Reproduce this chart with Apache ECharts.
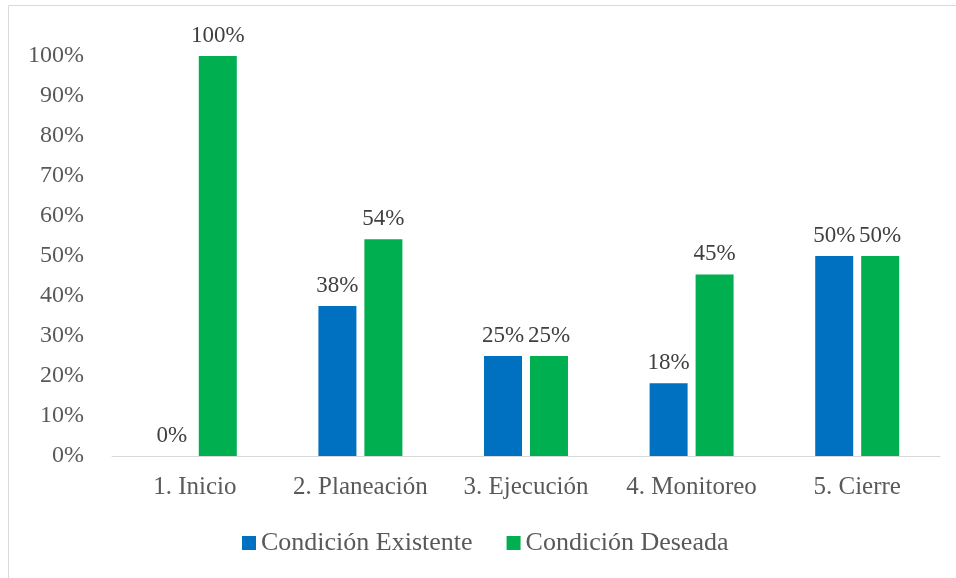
<!DOCTYPE html>
<html><head><meta charset="utf-8">
<script src="https://cdn.jsdelivr.net/npm/echarts@6/dist/echarts.min.js"></script>
<style>html,body{margin:0;padding:0;background:#fff}#c{width:956px;height:578px}</style>
</head><body><div id="c"></div>
<script>
var categories = ['1. Inicio', '2. Planeación', '3. Ejecución', '4. Monitoreo', '5. Cierre'];
var existente = [0, 37.5, 25, 18.2, 50];
var deseada = [100, 54.2, 25, 45.4, 50];
var seriesNames = ['Condición Existente', 'Condición Deseada'];
var yTicks = [0, 10, 20, 30, 40, 50, 60, 70, 80, 90, 100];

var font = '"Liberation Serif", "Times New Roman", serif';
var chart = echarts.init(document.getElementById('c'));
function lbl() {
  return {show: true, position: 'top', distance: 9, fontFamily: font, fontSize: 23, color: '#404040',
    formatter: function (p) { return Math.round(p.value) + '%'; }};
}
chart.setOption({
  animation: false,
  graphic: [{type: 'rect', shape: {x: 8.5, y: 5.5, width: 960, height: 600},
    style: {fill: 'none', stroke: '#d9d9d9', lineWidth: 1}, silent: true}],
  grid: {left: 112, right: 16, top: 56, bottom: 122},
  legend: {bottom: 17, left: 237, itemWidth: 14, itemHeight: 14, itemGap: 34,
    icon: 'rect', textStyle: {fontFamily: font, fontSize: 26, color: '#595959'},
    data: seriesNames},
  xAxis: {type: 'category', data: categories,
    axisLine: {lineStyle: {color: '#d9d9d9', width: 1}}, axisTick: {show: false},
    axisLabel: {interval: 0, fontFamily: font, fontSize: 25, color: '#595959', margin: 19}},
  yAxis: {type: 'value', min: 0, max: 100, interval: 10,
    axisLine: {show: false}, axisTick: {show: false}, splitLine: {show: false},
    axisLabel: {fontFamily: font, fontSize: 24, color: '#595959', margin: 28,
      formatter: function (v) { return yTicks.indexOf(v) >= 0 ? v + '%' : ''; }}},
  series: [
    {name: seriesNames[0], type: 'bar', data: existente, barWidth: 38, barGap: '21%',
      itemStyle: {color: '#0070c0'}, label: lbl()},
    {name: seriesNames[1], type: 'bar', data: deseada, barWidth: 38,
      itemStyle: {color: '#00b050'}, label: lbl()}
  ]
});
</script></body></html>
